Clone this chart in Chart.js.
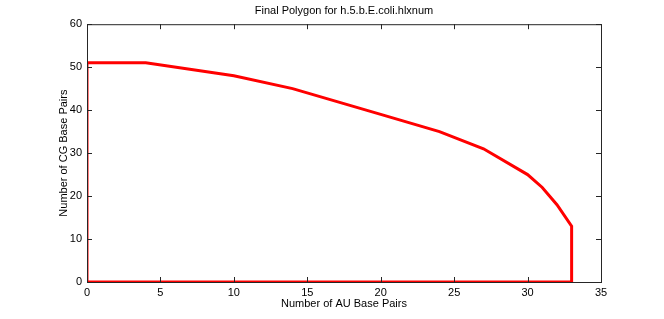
<!DOCTYPE html>
<html lang="en">
<head>
<meta charset="UTF-8">
<title>Final Polygon</title>
<script src="https://cdn.jsdelivr.net/npm/chart.js@4.4.0/dist/chart.umd.min.js"></script>
<style>
  html, body { margin: 0; padding: 0; background: #fff; }
  #wrap { width: 664px; height: 319px; }
</style>
</head>
<body>
<div id="wrap"><canvas id="myChart" width="664" height="319"></canvas></div>
<script>
// polygon vertices
var auPairs = [0, 0, 4, 10, 14, 20, 24, 27, 30, 31, 32, 33, 33, 0];
var cgPairs = [0, 51, 51, 48, 45, 39, 35, 31, 25, 22, 18, 13, 0, 0];

var xTicks = [0, 5, 10, 15, 20, 25, 30, 35];
var yTicks = [0, 10, 20, 30, 40, 50, 60];

var font = "'Liberation Sans', Arial, sans-serif";

var points = auPairs.map(function(x, i) {
    return { x: x, y: cgPairs[i] };
});

// matlab style box with ticks pointing inward
var boxPlugin = {
    id: 'box',
    afterDraw: function(chart) {
        var ctx = chart.ctx;
        var a = chart.chartArea;
        var xs = chart.scales.x, ys = chart.scales.y;
        ctx.save();
        ctx.strokeStyle = '#262626';
        ctx.lineWidth = 1;
        ctx.strokeRect(a.left + 0.5, a.top + 0.5, a.right - a.left, a.bottom - a.top);
        ctx.beginPath();
        xTicks.forEach(function(v) {
            var px = Math.round(xs.getPixelForValue(v)) + 0.5;
            ctx.moveTo(px, a.bottom); ctx.lineTo(px, a.bottom - 5);
            ctx.moveTo(px, a.top); ctx.lineTo(px, a.top + 5);
        });
        yTicks.forEach(function(v) {
            var py = Math.round(ys.getPixelForValue(v)) + 0.5;
            ctx.moveTo(a.left, py); ctx.lineTo(a.left + 5, py);
            ctx.moveTo(a.right, py); ctx.lineTo(a.right - 5, py);
        });
        ctx.stroke();
        ctx.restore();
    }
};

new Chart(document.getElementById('myChart'), {
    type: 'scatter',
    data: {
        datasets: [{
            data: points,
            showLine: true,
            borderColor: '#ff0000',
            backgroundColor: '#ff0000',
            borderWidth: 3,
            pointRadius: 0,
            tension: 0
        }]
    },
    options: {
        responsive: false,
        animation: false,
        layout: { padding: { left: 0, right: 63, top: 0, bottom: 0 } },
        plugins: {
            legend: { display: false },
            tooltip: { enabled: false },
            title: {
                display: true,
                text: 'Final Polygon for h.5.b.E.coli.hlxnum',
                fullSize: false,
                color: '#000',
                font: { family: font, size: 11, weight: 'normal' },
                padding: { top: 4, bottom: 7 }
            }
        },
        scales: {
            x: {
                type: 'linear',
                min: 0,
                max: 35,
                afterBuildTicks: function(s) { s.ticks = xTicks.map(function(v) { return { value: v }; }); },
                afterFit: function(s) { s.height = 37; },
                grid: { display: false, drawTicks: false },
                border: { display: false },
                ticks: { color: '#000', padding: 4, font: { family: font, size: 11 } },
                title: {
                    display: true,
                    text: 'Number of AU Base Pairs',
                    color: '#000',
                    font: { family: font, size: 11 },
                    padding: { top: 0, bottom: 8 }
                }
            },
            y: {
                type: 'linear',
                min: 0,
                max: 60,
                afterBuildTicks: function(s) { s.ticks = yTicks.map(function(v) { return { value: v }; }); },
                afterFit: function(s) { s.width = 87; },
                grid: { display: false, drawTicks: false },
                border: { display: false },
                ticks: { color: '#000', padding: 5, font: { family: font, size: 11 } },
                title: {
                    display: true,
                    text: 'Number of CG Base Pairs',
                    color: '#000',
                    font: { family: font, size: 11 },
                    padding: { top: 57, bottom: 0 }
                }
            }
        }
    },
    plugins: [boxPlugin]
});
</script>
</body>
</html>
